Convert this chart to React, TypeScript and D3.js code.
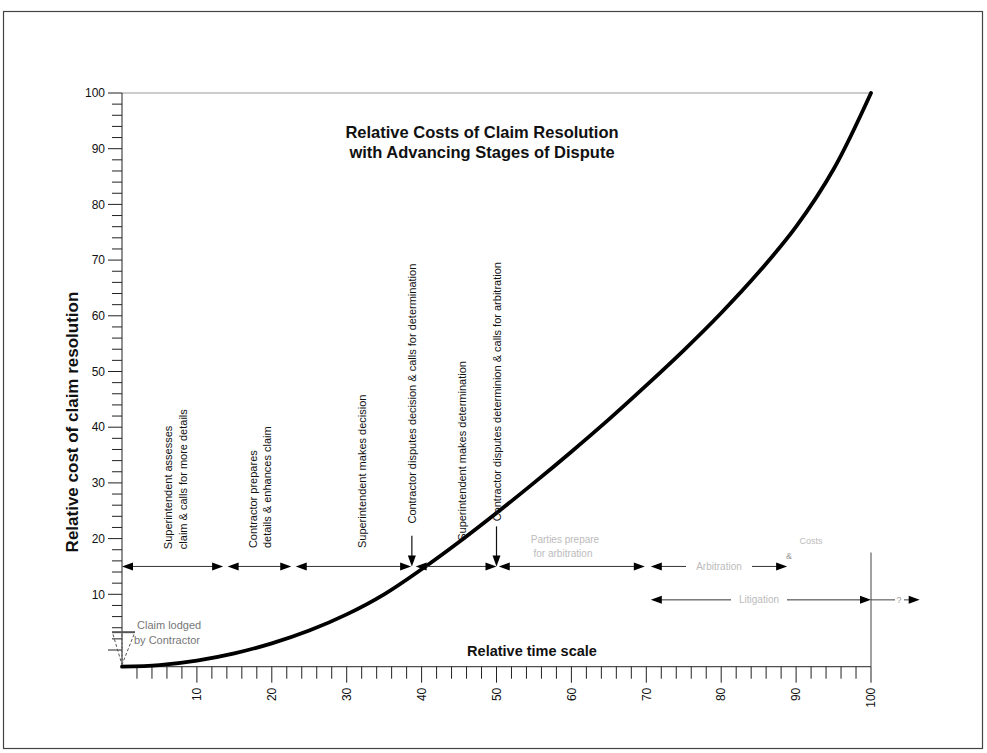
import React from "react";
import * as d3 from "d3";

// ---- data ----
const timeValues = [0, 5, 10, 15, 20, 25, 30, 35, 40, 45, 50, 55, 60, 65, 70, 75, 80, 85, 90, 95, 100];
const costValues = [-3, -2.7, -1.9, -0.6, 1.2, 3.5, 6.4, 10.0, 14.5, 19.4, 24.6, 30.0, 35.6, 41.4, 47.5, 53.8, 60.5, 67.8, 76.0, 86.3, 100];

const xTickLabels = [10, 20, 30, 40, 50, 60, 70, 80, 90, 100];
const yTickLabels = [10, 20, 30, 40, 50, 60, 70, 80, 90, 100];

const stageStarts = [0, 14.1, 23.2, 39.2, 50.3, 70.6];
const stageEnds = [13.5, 22.6, 38.6, 50.0, 69.8, 88.8];
const stageLevel = 15;

const litigationStart = 70.6;
const litigationEnd = 100;
const beyondEnd = 106.5;
const litigationLevel = 9;

const stageTextX = [6.2, 8.1, 17.5, 19.4, 32.0, 38.7, 45.4, 50.1];
const stageTextBottom = [18.1, 18.1, 18.3, 18.3, 18.3, 22.7, 19.6, 23.1];
const stageTexts = [
  "Superintendent assesses",
  "claim & calls for more details",
  "Contractor prepares",
  "details & enhances claim",
  "Superintendent makes decision",
  "Contractor disputes decision & calls for determination",
  "Superintendent makes determination",
  "Contractor disputes determinion & calls for arbitration",
];

const disputeTimes = [38.7, 50.0];
const disputeArrowTop = [20.5, 22.2];

const W = 987;
const H = 753;
const FONT = "'Liberation Sans', Arial, Helvetica, sans-serif";

export default function App() {
  const x = d3.scaleLinear().domain([0, 100]).range([122, 871]);
  const y = d3.scaleLinear().domain([0, 100]).range([650, 93]);
  const yBase = y(-3);

  const line = d3
    .line<number>()
    .x((_, i) => x(timeValues[i]))
    .y((d) => y(d))
    .curve(d3.curveCatmullRom.alpha(0.5));

  const xMinor = d3.range(2, 101, 2);
  const yMinor = d3.range(0, 101, 2);

  const arrowHead = (tipX: number, tipY: number, dir: number, key: string) => {
    let pts: [number, number][];
    if (dir === 2) {
      pts = [
        [tipX, tipY],
        [tipX - 4, tipY - 11],
        [tipX + 4, tipY - 11],
      ];
    } else {
      pts = [
        [tipX, tipY],
        [tipX - dir * 11, tipY - 4],
        [tipX - dir * 11, tipY + 4],
      ];
    }
    return <polygon key={key} points={pts.map((p) => p.join(",")).join(" ")} fill="#000" />;
  };

  const doubleArrow = (x1: number, x2: number, yy: number, key: string, color = "#333") => (
    <g key={key}>
      <line x1={x1 + 4} x2={x2 - 4} y1={yy} y2={yy} stroke={color} strokeWidth={1} />
      {arrowHead(x1, yy, -1, key + "l")}
      {arrowHead(x2, yy, 1, key + "r")}
    </g>
  );

  const sy = y(stageLevel);
  const ly = y(litigationLevel);

  return (
    <svg
      width={W}
      height={H}
      style={{ position: "absolute", left: 0, top: 0, background: "#fff" }}
      fontFamily={FONT}
    >
      <rect x={0} y={0} width={W} height={H} fill="#fff" />
      <rect x={3.5} y={11.5} width={979} height={737} fill="none" stroke="#444" strokeWidth={1.2} />

      {/* top frame line and right marker line */}
      <line x1={x(0)} x2={x(100)} y1={y(100)} y2={y(100)} stroke="#999" strokeWidth={1} />
      <line x1={x(100)} x2={x(100)} y1={y(17.5)} y2={yBase} stroke="#444" strokeWidth={1} />

      {/* y axis */}
      <line x1={x(0)} x2={x(0)} y1={y(100)} y2={yBase} stroke="#222" strokeWidth={1} />
      {yMinor.map((v) => (
        <line
          key={"ym" + v}
          x1={v % 10 === 0 ? x(0) - 14 : x(0) - 10}
          x2={x(0)}
          y1={y(v)}
          y2={y(v)}
          stroke="#222"
          strokeWidth={1}
        />
      ))}
      {yTickLabels.map((v) => (
        <text key={"yl" + v} x={x(0) - 17} y={y(v)} dy="0.35em" textAnchor="end" fontSize={12} fill="#111">
          {v}
        </text>
      ))}

      {/* x axis */}
      <line x1={x(0)} x2={x(100)} y1={yBase} y2={yBase} stroke="#222" strokeWidth={1} />
      {xMinor.map((v) => (
        <line
          key={"xm" + v}
          x1={x(v)}
          x2={x(v)}
          y1={yBase}
          y2={v % 10 === 0 ? yBase + 16 : yBase + 12}
          stroke="#222"
          strokeWidth={1}
        />
      ))}
      {xTickLabels.map((v) => (
        <text
          key={"xl" + v}
          transform={`translate(${x(v)},${yBase + 21}) rotate(-90)`}
          dy="0.35em"
          textAnchor="end"
          fontSize={12}
          fill="#111"
        >
          {v}
        </text>
      ))}

      {/* axis titles */}
      <text
        transform={`translate(72,${422}) rotate(-90)`}
        dy="0.35em"
        textAnchor="middle"
        fontSize={17}
        fontWeight="bold"
        fill="#111"
      >
        Relative cost of claim resolution
      </text>
      <text x={532} y={651} dy="0.35em" textAnchor="middle" fontSize={14.5} fontWeight="bold" fill="#111">
        Relative time scale
      </text>

      {/* title */}
      <text x={482} y={132} dy="0.35em" textAnchor="middle" fontSize={16.5} fontWeight="bold" fill="#111">
        Relative Costs of Claim Resolution
      </text>
      <text x={482} y={152} dy="0.35em" textAnchor="middle" fontSize={16.5} fontWeight="bold" fill="#111">
        with Advancing Stages of Dispute
      </text>

      {/* curve */}
      <path d={line(costValues) || ""} fill="none" stroke="#000" strokeWidth={3.8} strokeLinecap="round" />

      {/* stage arrows */}
      {stageStarts.map((s, i) => doubleArrow(x(s), x(stageEnds[i]), sy, "st" + i))}

      {/* stage texts */}
      {stageTexts.map((t, i) => (
        <text
          key={"tx" + i}
          transform={`translate(${x(stageTextX[i])},${y(stageTextBottom[i])}) rotate(-90)`}
          dy="0.35em"
          textAnchor="start"
          fontSize={11}
          fill="#111"
        >
          {t}
        </text>
      ))}

      {/* dispute arrows */}
      {disputeTimes.map((t, i) => (
        <g key={"da" + i}>
          <line x1={x(t)} x2={x(t)} y1={y(disputeArrowTop[i])} y2={sy - 8} stroke="#111" strokeWidth={1.2} />
          {arrowHead(x(t), sy, 2, "dah" + i)}
        </g>
      ))}

      {/* faint labels */}
      <text x={565} y={539} dy="0.35em" textAnchor="middle" fontSize={10} fill="#bbb">
        Parties prepare
      </text>
      <text x={563} y={553} dy="0.35em" textAnchor="middle" fontSize={10} fill="#bbb">
        for arbitration
      </text>
      <rect x={686} y={561} width={66} height={10} fill="#fff" />
      <text x={719} y={sy} dy="0.35em" textAnchor="middle" fontSize={10} fill="#bbb">
        Arbitration
      </text>
      <text x={811} y={541} dy="0.35em" textAnchor="middle" fontSize={9} fill="#bbb">
        Costs
      </text>
      <text x={789} y={556} dy="0.35em" textAnchor="middle" fontSize={9} fill="#999">
        &amp;
      </text>

      {/* litigation */}
      {doubleArrow(x(litigationStart), x(litigationEnd), ly, "lit")}
      <rect x={731} y={ly - 5} width={56} height={10} fill="#fff" />
      <text x={759} y={ly} dy="0.35em" textAnchor="middle" fontSize={10} fill="#bbb">
        Litigation
      </text>
      <line x1={x(litigationEnd)} x2={x(beyondEnd) - 6} y1={ly} y2={ly} stroke="#444" strokeWidth={1} />
      <rect x={895} y={ly - 5} width={9} height={10} fill="#fff" />
      <text x={899} y={ly} dy="0.35em" textAnchor="middle" fontSize={9} fill="#999">
        ?
      </text>
      {arrowHead(x(beyondEnd), ly, 1, "beyond")}

      {/* claim lodged marker */}
      <g stroke="#555" strokeWidth={1} fill="none">
        <line x1={112} x2={135} y1={y(3.2)} y2={y(3.2)} strokeWidth={2} />
        <line x1={113} x2={x(0)} y1={y(2.8)} y2={yBase - 2} strokeDasharray="3,2" />
        <line x1={134} x2={x(0)} y1={y(2.8)} y2={yBase - 2} strokeDasharray="3,2" />
        <line x1={x(0)} x2={x(0)} y1={y(2.8)} y2={yBase - 4} strokeDasharray="2,2" />
      </g>
      <text x={137} y={625} dy="0.35em" fontSize={11} fill="#777">
        Claim lodged
      </text>
      <text x={134} y={640} dy="0.35em" fontSize={11} fill="#777">
        by Contractor
      </text>
    </svg>
  );
}
